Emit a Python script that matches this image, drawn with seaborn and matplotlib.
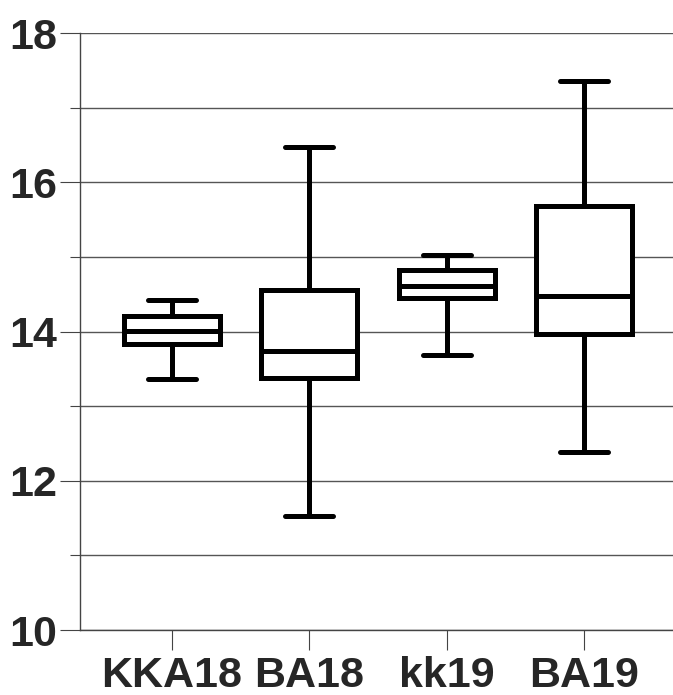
import pandas as pd
import matplotlib
matplotlib.use("Agg")
import matplotlib.pyplot as plt
from matplotlib.ticker import MultipleLocator
import seaborn as sns

# five-number summaries: min, q1, median, q3, max
groups = ['KKA18', 'BA18', 'kk19', 'BA19']
kka18 = [13.36, 13.83, 14.01, 14.21, 14.42]
ba18 = [11.53, 13.38, 13.74, 14.55, 16.47]
kk19 = [13.68, 14.45, 14.61, 14.82, 15.02]
ba19 = [12.38, 13.97, 14.47, 15.68, 17.36]

df = pd.DataFrame({
    'group': [g for g, v in zip(groups, [kka18, ba18, kk19, ba19]) for _ in v],
    'value': kka18 + ba18 + kk19 + ba19,
})

sns.set_style("ticks")
plt.rcParams['font.family'] = ['Liberation Sans', 'DejaVu Sans']
plt.rcParams['font.weight'] = 'bold'

fig = plt.figure(figsize=(6.73, 6.95), dpi=100)
ax = fig.add_axes([0.119, 0.0935, 0.881, 0.859])

# with 5 points and whiskers at 0-100%, the box shows exactly the summary
sns.boxplot(data=df, x='group', y='value', order=groups, whis=(0, 100),
            width=0.7, color='white', linecolor='black', linewidth=3.6,
            capprops=dict(solid_capstyle='round'), ax=ax, zorder=3)

ax.set_ylim(10, 18)
ax.set_xlim(-0.67, 3.65)
ax.yaxis.set_major_locator(MultipleLocator(2))
ax.yaxis.set_minor_locator(MultipleLocator(1))
ax.grid(which='both', axis='y', color='#555555', linewidth=1.0, zorder=0)
ax.set_axisbelow(True)

for side in ['top', 'right']:
    ax.spines[side].set_visible(False)
for side in ['left', 'bottom']:
    ax.spines[side].set_color('#444444')
    ax.spines[side].set_linewidth(1.0)

ax.tick_params(axis='y', which='major', length=14.4, width=0.8, color='#444444',
               labelsize=31, pad=2)
ax.tick_params(axis='y', which='minor', length=7.2, width=0.8, color='#444444')
ax.tick_params(axis='x', length=14.4, width=0.8, color='#444444',
               labelsize=31, pad=4)
for lab in ax.get_xticklabels() + ax.get_yticklabels():
    lab.set_fontweight('bold')

ax.set_xlabel('')
ax.set_ylabel('')

fig.savefig('out.png', dpi=100)
